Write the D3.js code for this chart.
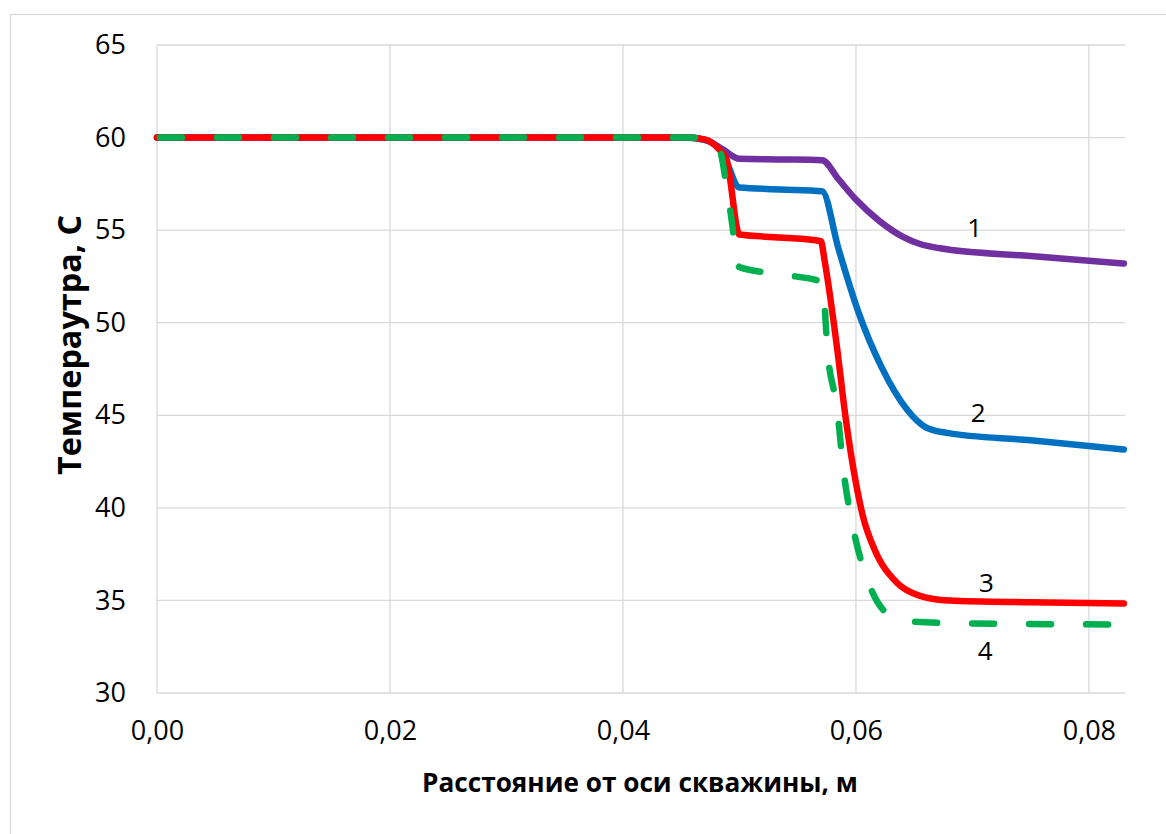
<!DOCTYPE html>
<html>
<head>
<meta charset="utf-8">
<script src="https://cdn.jsdelivr.net/npm/d3@7"></script>
<style>
  body { margin: 0; background: #fff; }
  svg { display: block; }
</style>
</head>
<body>
<script>
const W = 1166, H = 834
const margin = {top: 45, left: 157, bottom: 141, right: 41}
const font = "'Open Sans', 'Noto Sans', sans-serif"

// curve 1
const x1 = [0, 0.040, 0.0455, 0.0472, 0.0486, 0.0500, 0.0535, 0.0571, 0.0585, 0.0600, 0.0620, 0.0640, 0.0655, 0.0672, 0.0750, 0.0830]
const t1 = [60, 60, 60, 59.85, 59.35, 58.85, 58.82, 58.78, 57.75, 56.65, 55.5, 54.65, 54.25, 54.02, 53.6, 53.2]
// curve 2
const x2 = [0, 0.040, 0.0455, 0.0472, 0.0486, 0.0500, 0.0535, 0.0571, 0.0585, 0.0602, 0.0622, 0.0644, 0.0660, 0.0678, 0.0750, 0.0830]
const t2 = [60, 60, 60, 59.85, 59.1, 57.3, 57.2, 57.1, 54.0, 50.6, 47.6, 45.3, 44.35, 44.05, 43.65, 43.15]
// curve 3
const x3 = [0, 0.040, 0.0455, 0.0470, 0.0482, 0.0489, 0.0500, 0.0535, 0.0570, 0.0573, 0.0584, 0.0591, 0.0600, 0.0606, 0.0616, 0.0635, 0.0655, 0.0680, 0.0750, 0.0830]
const t3 = [60, 60, 60, 59.9, 59.4, 58.8, 54.76, 54.6, 54.4, 53.4, 48.55, 44.95, 41.35, 39.55, 37.75, 35.97, 35.25, 35.0, 34.9, 34.83]
// curve 4 (dashed)
const x4 = [0, 0.040, 0.0455, 0.0468, 0.0481, 0.0492, 0.0500, 0.0537, 0.0571, 0.0576, 0.0584, 0.0589, 0.0598, 0.0610, 0.0629, 0.0649, 0.0700, 0.0830]
const t4 = [60, 60, 60, 59.95, 59.7, 56.1, 53.0, 52.6, 52.2, 48.2, 45.3, 42.2, 38.8, 36.1, 34.2, 33.85, 33.75, 33.7]

const xTicks = [0, 0.02, 0.04, 0.06, 0.08]
const yTicks = [30, 35, 40, 45, 50, 55, 60, 65]

const series = [
  {name: '1', xs: x1, ts: t1, color: '#7030A0', dash: null, lx: 0.0702, ly: 55.15},
  {name: '2', xs: x2, ts: t2, color: '#0070C0', dash: null, lx: 0.0705, ly: 45.2},
  {name: '3', xs: x3, ts: t3, color: '#FF0000', dash: null, lx: 0.0712, ly: 36.0},
  {name: '4', xs: x4, ts: t4, color: '#00B050', dash: '22,35', lx: 0.0711, ly: 32.3}
]

const svg = d3.select('body').append('svg')
  .attr('width', W).attr('height', H)

// outer chart border
svg.append('rect')
  .attr('x', 10.5).attr('y', 14.5)
  .attr('width', W + 20).attr('height', H + 20)
  .attr('fill', 'none').attr('stroke', '#d9d9d9').attr('stroke-width', 1.3)

const x = d3.scaleLinear().domain([0, 0.0831]).range([margin.left, W - margin.right])
const y = d3.scaleLinear().domain([30, 65]).range([H - margin.bottom, margin.top])

// grid
svg.append('g').selectAll('line.h')
  .data(yTicks).enter().append('line')
  .attr('x1', margin.left).attr('x2', W - margin.right)
  .attr('y1', d => y(d)).attr('y2', d => y(d))
  .attr('stroke', '#d9d9d9').attr('stroke-width', 1.3)
svg.append('g').selectAll('line.v')
  .data(xTicks).enter().append('line')
  .attr('y1', margin.top).attr('y2', H - margin.bottom)
  .attr('x1', d => x(d)).attr('x2', d => x(d))
  .attr('stroke', '#d9d9d9').attr('stroke-width', 1.3)

// axes (labels only, lines are the grid)
const yAxis = d3.axisLeft(y).tickValues(yTicks).tickSize(0).tickPadding(31)
  .tickFormat(d3.format('d'))
const gY = svg.append('g').attr('transform', `translate(${margin.left},0)`).call(yAxis)
gY.select('.domain').remove()
gY.selectAll('text').attr('font-family', font).attr('font-size', 27).attr('fill', '#000')

const fmtX = d => d3.format('.2f')(d).replace('.', ',')
const xAxis = d3.axisBottom(x).tickValues(xTicks).tickSize(0).tickPadding(28).tickFormat(fmtX)
const gX = svg.append('g').attr('transform', `translate(0,${H - margin.bottom})`).call(xAxis)
gX.select('.domain').remove()
gX.selectAll('text').attr('font-family', font).attr('font-size', 27).attr('fill', '#000')

// lines
const line = d3.line().x(d => x(d[0])).y(d => y(d[1])).curve(d3.curveMonotoneX)
series.forEach(s => {
  const pts = s.xs.map((v, i) => [v, s.ts[i]])
  svg.append('path')
    .attr('d', line(pts))
    .attr('fill', 'none')
    .attr('stroke', s.color)
    .attr('stroke-width', 6.5)
    .attr('stroke-linecap', 'round')
    .attr('stroke-linejoin', 'round')
    .attr('stroke-dasharray', s.dash)
    .attr('stroke-dashoffset', s.dash ? -3 : null)
})

// curve numbers
series.forEach(s => {
  svg.append('text')
    .attr('x', x(s.lx)).attr('y', y(s.ly))
    .attr('text-anchor', 'middle').attr('dominant-baseline', 'central')
    .attr('font-family', font).attr('font-size', 26).attr('fill', '#000')
    .text(s.name)
})

// axis titles
const fit = (sel, target) => {
  const w = sel.node().getComputedTextLength()
  const fs = +sel.attr('font-size')
  sel.attr('font-size', (fs * target / w).toFixed(2))
}
const xt = svg.append('text')
  .attr('x', 640).attr('y', 782)
  .attr('text-anchor', 'middle').attr('dominant-baseline', 'central')
  .attr('font-family', font).attr('font-weight', 'bold').attr('font-size', 24)
  .text('Расстояние от оси скважины, м')
fit(xt, 436)

const yt = svg.append('text')
  .attr('transform', 'translate(68,345) rotate(-90)')
  .attr('text-anchor', 'middle').attr('dominant-baseline', 'central')
  .attr('font-family', font).attr('font-weight', 'bold').attr('font-size', 24)
  .text('Темпераутра, С')
fit(yt, 260)
</script>
</body>
</html>
